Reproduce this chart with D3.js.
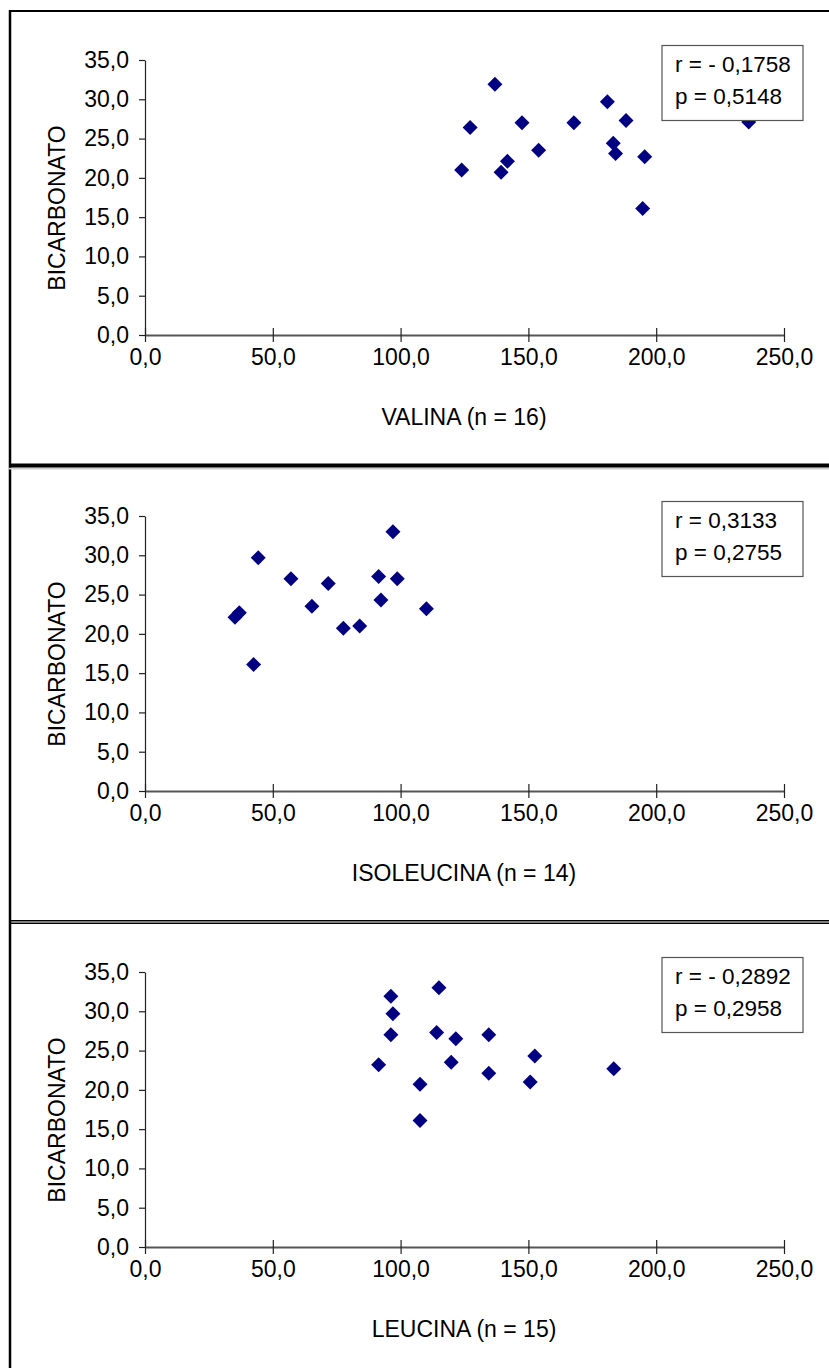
<!DOCTYPE html>
<html>
<head>
<meta charset="utf-8">
<script src="https://cdn.jsdelivr.net/npm/d3@7"></script>
<style>
  body { margin: 0; background: #fff; }
  svg { display: block; }
  text { font-family: "Liberation Sans", Arial, sans-serif; fill: #000; }
</style>
</head>
<body>
<div id="chart"></div>
<script>
// Values
var yTitle = "BICARBONATO";
var yTicks = [0, 5, 10, 15, 20, 25, 30, 35];
var xTicks = [0, 50, 100, 150, 200, 250];

var valinaX = [136.9, 127.2, 123.9, 147.5, 141.8, 139.3, 154.0, 167.8, 180.9, 188.2, 183.2, 184.1, 195.5, 194.7, 236.2];
var valinaY = [31.9, 26.4, 21.0, 27.0, 22.1, 20.7, 23.5, 27.0, 29.7, 27.3, 24.4, 23.1, 22.7, 16.1, 27.1];

var isoX = [44.3, 35.2, 36.9, 42.5, 57.1, 65.3, 71.7, 77.6, 84.0, 91.4, 92.3, 97.0, 98.7, 110.1];
var isoY = [29.7, 22.1, 22.7, 16.1, 27.0, 23.5, 26.4, 20.7, 21.0, 27.3, 24.3, 33.0, 27.0, 23.2];

var leuX = [96.2, 97.0, 96.2, 91.4, 107.6, 107.6, 115.0, 114.1, 121.6, 134.5, 119.8, 134.5, 152.5, 150.7, 183.4];
var leuY = [31.9, 29.7, 27.0, 23.2, 20.7, 16.1, 33.0, 27.3, 26.5, 27.0, 23.5, 22.1, 24.3, 21.0, 22.7];

var panels = [
  { title: "VALINA (n = 16)", xs: valinaX, ys: valinaY, r: "r = - 0,1758", p: "p = 0,5148", zero: 335 },
  { title: "ISOLEUCINA (n = 14)", xs: isoX, ys: isoY, r: "r = 0,3133", p: "p = 0,2755", zero: 791 },
  { title: "LEUCINA (n = 15)", xs: leuX, ys: leuY, r: "r = - 0,2892", p: "p = 0,2958", zero: 1247 }
];

var svgWidth = 829;
var svgHeight = 1368;

var svg = d3.select("#chart")
  .append("svg")
  .attr("width", svgWidth)
  .attr("height", svgHeight);

// frame lines of the document
svg.append("line").attr("x1", 10).attr("x2", 10).attr("y1", 10).attr("y2", svgHeight)
  .attr("stroke", "#000").attr("stroke-width", 2.5);
svg.append("line").attr("x1", 9).attr("x2", svgWidth).attr("y1", 11).attr("y2", 11)
  .attr("stroke", "#000").attr("stroke-width", 2);
svg.append("line").attr("x1", 9).attr("x2", svgWidth).attr("y1", 468.5).attr("y2", 468.5)
  .attr("stroke", "#ccc").attr("stroke-width", 2);
svg.append("line").attr("x1", 9).attr("x2", svgWidth).attr("y1", 465.5).attr("y2", 465.5)
  .attr("stroke", "#000").attr("stroke-width", 4);
svg.append("line").attr("x1", 9).attr("x2", svgWidth).attr("y1", 920.7).attr("y2", 920.7)
  .attr("stroke", "#000").attr("stroke-width", 1.4);
svg.append("line").attr("x1", 9).attr("x2", svgWidth).attr("y1", 923.2).attr("y2", 923.2)
  .attr("stroke", "#000").attr("stroke-width", 1.4);

var fmt = function(v) { return d3.format(".1f")(v).replace(".", ","); };
var diamond = d3.symbol().type(d3.symbolSquare).size(112);

panels.forEach(function(pn) {
  var xScale = d3.scaleLinear().domain([0, 250]).range([145, 784]);
  var yScale = d3.scaleLinear().domain([0, 35]).range([pn.zero, pn.zero - 275]);

  var g = svg.append("g");

  // y axis
  var leftAxis = d3.axisLeft(yScale)
    .tickValues(yTicks)
    .tickFormat(fmt)
    .tickSizeInner(6)
    .tickSizeOuter(0)
    .tickPadding(10);
  var yAxis = g.append("g")
    .attr("transform", "translate(145,0)")
    .call(leftAxis);
  yAxis.select(".domain").attr("stroke", "#222").attr("stroke-width", 1.2);
  yAxis.selectAll(".tick line").attr("stroke", "#222").attr("stroke-width", 1.2);
  yAxis.selectAll("text")
    .attr("font-size", "23px")
    .attr("font-family", "Liberation Sans, Arial, sans-serif");

  // x axis, ticks cross the line
  var bottomAxis = d3.axisBottom(xScale)
    .tickValues(xTicks)
    .tickFormat(fmt)
    .tickSizeInner(7)
    .tickSizeOuter(0)
    .tickPadding(7);
  var xAxis = g.append("g")
    .attr("transform", "translate(0," + pn.zero + ")")
    .call(bottomAxis);
  xAxis.select(".domain").attr("stroke", "#555").attr("stroke-width", 2);
  xAxis.selectAll(".tick line").attr("y1", -7).attr("y2", 7)
    .attr("stroke", "#222").attr("stroke-width", 1.2);
  xAxis.selectAll("text")
    .attr("font-size", "23px")
    .attr("font-family", "Liberation Sans, Arial, sans-serif");

  // titles
  g.append("text")
    .attr("x", 464)
    .attr("y", pn.zero + 90)
    .attr("text-anchor", "middle")
    .attr("font-size", "23px")
    .text(pn.title);

  g.append("text")
    .attr("transform", "translate(57," + (pn.zero - 127) + ") rotate(-90)")
    .attr("text-anchor", "middle")
    .attr("dy", "0.35em")
    .attr("font-size", "23px")
    .text(yTitle);

  // points
  g.selectAll("path.pt")
    .data(pn.xs)
    .enter()
    .append("path")
    .attr("class", "pt")
    .attr("d", diamond)
    .attr("transform", function(d, i) {
      return "translate(" + xScale(d) + "," + yScale(pn.ys[i]) + ") rotate(45)";
    })
    .attr("fill", "#000080");

  // r / p box
  var boxTop = pn.zero - 289.5;
  g.append("rect")
    .attr("x", 662)
    .attr("y", boxTop)
    .attr("width", 141)
    .attr("height", 75)
    .attr("fill", "#fff")
    .attr("stroke", "#555")
    .attr("stroke-width", 1.2);
  g.append("text")
    .attr("x", 675)
    .attr("y", boxTop + 26)
    .attr("font-size", "22.5px")
    .text(pn.r);
  g.append("text")
    .attr("x", 675)
    .attr("y", boxTop + 58)
    .attr("font-size", "22.5px")
    .text(pn.p);
});
</script>
</body>
</html>
